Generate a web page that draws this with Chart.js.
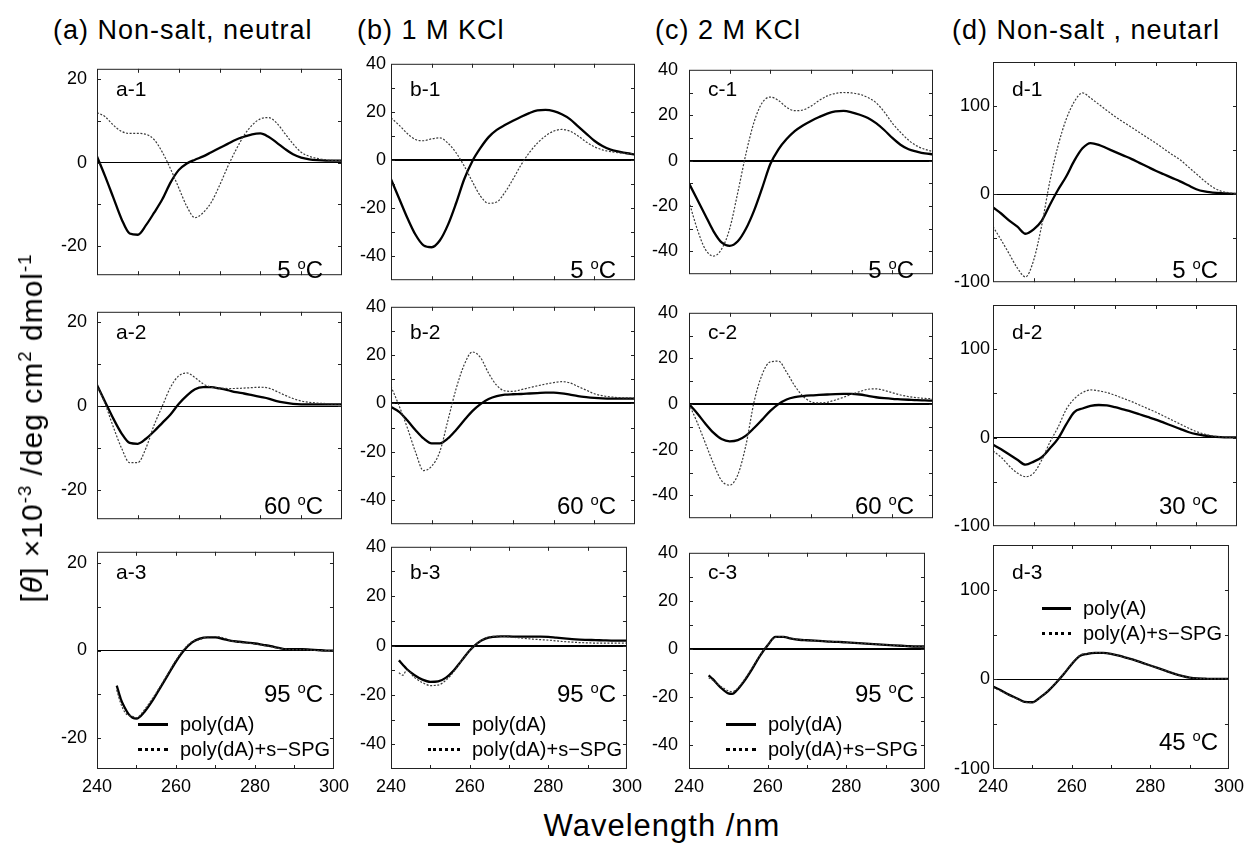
<!DOCTYPE html>
<html>
<head>
<meta charset="utf-8">
<script src="https://cdn.jsdelivr.net/npm/chart.js@4.4.0/dist/chart.umd.min.js"></script>
<style>
    body { margin: 0; background: #fff; width: 1254px; height: 843px; position: relative; overflow: hidden;
           font-family: 'Liberation Sans', Arial, Helvetica, sans-serif; color: #000; }
    .txt { position: absolute; white-space: nowrap; }
    .sup { font-size: 0.62em; position: relative; top: -0.6em; }
    .title { font-size: 27px; letter-spacing: 1px; line-height: 30px; }
    .tag { font-size: 21px; line-height: 21px; }
    .temp { font-size: 24px; line-height: 24px; text-align: right; }
    .leg { font-size: 20px; line-height: 22px; display: flex; align-items: center; }
    .leg .smp { display: inline-block; margin-right: 12px; }
</style>
</head>
<body>
<script>
// wavelength grid (nm)
const wl = [240,242,244,246,248,250,252,254,256,258,260,262,264,266,268,270,272,274,276,278,280,282,284,286,288,290,292,294,296,298,300];
const a3Wl = [245,246,247,248,249,250,252,254,256,258,260,262,264,266,268,270,272,274,276,278,280,282,284,286,288,290,292,294,296,298,300];
const b3Wl = [242,243,244,246,248,250,252,254,256,258,260,262,264,266,268,270,272,274,276,278,280,282,284,286,288,290,292,294,296,298,300];
const c3Wl = [245,246,248,250,251,252,254,256,258,260,262,264,266,268,270,272,274,276,278,280,282,284,286,288,290,292,294,296,298,300];

// tick values (labels shown on every other one)
const xTicks = [240,250,260,270,280,290,300];
const aTicks = [-20,-10,0,10,20];
const bcTicks = [-50,-40,-30,-20,-10,0,10,20,30,40];
const dTicks = [-100,-50,0,50,100,150];

// (a) non-salt, neutral - poly(dA) (solid) / poly(dA)+s-SPG (dotted)
const a1Solid  = [1.5,-3.3,-8.4,-13.5,-17,-17.3,-15,-12,-8.8,-4.8,-1.8,-0.2,0.7,1.5,2.5,3.5,4.5,5.5,6.2,6.8,7.0,6.2,4.8,3.3,2.0,1.2,0.8,0.6,0.5,0.5,0.5];
const a1Dotted = [12,11,9,7.5,7,7,6.8,5.5,2.5,-1.5,-6,-10.5,-13.2,-12,-9.5,-5.5,-1,3,6.5,9,10.5,10.8,9.5,7,4.5,2.5,1.5,1,0.7,0.5,0.5];
const a2Solid  = [5,1,-3,-6.5,-8.8,-9,-7.8,-6,-4,-2,0.5,2.5,4,4.5,4.5,4.2,3.8,3.3,3,2.6,2.2,1.8,1.2,0.8,0.5,0.4,0.4,0.4,0.4,0.4,0.4];
const a2Dotted = [5,0.5,-5,-10,-13.5,-13.5,-10,-4.5,0,4.5,7.2,7.9,6.8,5.3,4.5,4.3,4.2,4.2,4.3,4.4,4.5,4.3,3.5,2.6,1.8,1.2,0.9,0.7,0.6,0.5,0.5];
const a3Solid  = [-8,-11,-13,-14.5,-15.3,-15.5,-14,-11.5,-8.5,-5.5,-2.5,0,1.8,2.7,3,3,2.6,2.2,2,1.8,1.6,1.3,1,0.6,0.3,0.3,0.3,0.2,0.1,0,0];
const a3Dotted = [-9,-12,-14,-14.8,-15,-15.3,-13.5,-11,-8.2,-5.2,-2.2,0.3,2,2.5,3.1,3.2,2.9,2.2,1.9,1.7,1.5,1.2,0.9,0.5,0.3,0.2,0.2,0.1,0,0,0];

// (b) 1 M KCl
const b1Solid  = [-8,-16,-24,-31,-35.5,-36.3,-33.5,-27,-18,-8,-0.5,5,9.5,12.5,14.5,16.3,18,19.5,20.6,20.8,20.3,19,17,14,11,8,5.8,4.3,3.5,2.8,2.3];
const b1Dotted = [17.5,14.5,11,8.5,8,8.8,9.2,7,3,-2.5,-9,-15,-18,-17.5,-13.5,-8,-2,3,7,10,12,12.7,12,10,7.5,5.5,4.2,3.5,3,2.7,2.5];
const b2Solid  = [-1.5,-3.5,-7,-11,-14.5,-16.5,-16.5,-14.5,-11,-7,-3.2,-0.3,1.8,3,3.6,3.8,3.9,4.1,4.3,4.5,4.5,4.2,3.6,3,2.6,2.3,2.1,2,2,2,2];
const b2Dotted = [7,-1,-10,-20,-27.8,-26,-20,-7,6,16,21.3,19,12.5,7.5,5.2,5,5.7,6.5,7.3,8,8.6,9,8.5,7,5.5,4,3.2,2.7,2.4,2.3,2.2];
const b3Solid  = [-6,-7.8,-9.5,-12,-13.8,-14.7,-14.5,-13,-10,-6,-2,1,2.8,3.5,3.7,3.7,3.6,3.6,3.6,3.6,3.5,3.2,2.9,2.6,2.4,2.3,2.2,2.1,2,2,2];
const b3Dotted = [-11,-12,-10,-13,-15,-16.2,-16,-14,-10.5,-6,-2,1,3,3.7,3.8,3.5,3.2,2.9,2.6,2.4,2.2,1.9,1.6,1.4,1.2,1.1,1,1,1,1,1];

// (c) 2 M KCl
const c1Solid  = [-10,-17,-24,-31,-36,-37.5,-35.5,-30,-22,-12,-1.5,5,9.5,13,15.5,17.5,19.2,20.7,21.7,21.9,21.3,20.2,18.8,16.5,13.5,10,7,5,4,3.2,2.8];
const c1Dotted = [-18,-30,-39,-42,-39,-30,-14,3,17,25.5,28,26.5,23.5,22,22.3,24,26.5,28.5,29.6,30,29.8,29.2,27.8,25.5,21.5,16.5,12.5,9,6.5,5,4];
const c2Solid  = [0,-4,-8.5,-12.5,-15.3,-16.3,-15.8,-13.8,-10.5,-6.8,-3,0,2,3,3.5,3.8,4,4.2,4.4,4.5,4.5,4.2,3.6,3,2.6,2.3,2.1,1.9,1.7,1.6,1.5];
const c2Dotted = [0,-8,-17,-26,-33.5,-35.5,-31,-18,1,13,18.5,18.8,14,8,3.5,1,0.5,0.8,1.8,3,4.3,5.5,6.5,6.7,6,5,4,3.3,2.8,2.5,2.3];
const c3Solid  = [-11,-12.5,-16,-18.5,-18.7,-17.5,-13.5,-8.5,-3,1.5,5,5,4.3,3.8,3.6,3.4,3.2,3,2.9,2.7,2.5,2.3,2.1,1.9,1.7,1.5,1.3,1.1,1,1];
const c3Dotted = [-12,-13,-15.5,-17.5,-17.8,-17,-13,-8,-2.8,1.6,4.8,5.1,4.4,3.9,3.6,3.4,3.2,3.1,2.9,2.7,2.5,2.3,2.1,1.9,1.7,1.5,1.3,1.1,1,1];

// (d) non-salt, poly(A) (solid) / poly(A)+s-SPG (dotted)
const d1Solid  = [-15,-22,-30,-37,-45,-40,-30,-12,5,20,38,52,58,56,52,48,44,40,35.5,31,26.5,22.5,18.5,14.5,10,5.5,3,1.8,1,0.5,0.3];
const d1Dotted = [-37,-52,-68,-84,-94,-75,-35,15,55,85,105,115,109,102,95,88,82,76,70,64,58,51.5,45,39,31,23,15,8,3.5,1.5,0.5];
const d2Solid  = [-8,-13,-19,-25,-30.5,-27,-22,-12,-1,15,29,33,36,37,36.5,34.5,32,29.5,26.5,23.5,20.5,17,13.5,10,6.5,4,2.5,1.3,0.7,0.4,0.3];
const d2Dotted = [-15,-22,-32,-40,-44,-40,-25,-5,12,32,44,51,54,53,51,48,44.5,41,37,33,29,24.5,20,15.5,11,7,4,2,1,0.6,0.5];
const d3Solid  = [-8,-12,-17,-21,-25,-25.5,-20,-13,-4,6,17,26,28.5,29.5,29.5,28.5,26.5,24,21.5,18.5,15.5,12.5,9.5,6.5,4,2,1,0.7,0.5,0.5,0.5];
const d3Dotted = [-9,-13,-17.5,-21.5,-25.5,-26,-20.5,-12.5,-3.5,6.5,17.5,26.5,29,30,29.5,28.5,26.5,24,21.5,18.5,15.5,12.5,9.5,6.5,4,2,1,0.7,0.5,0.5,0.5];

const titles = { a: '(a) Non-salt, neutral', b: '(b) 1 M KCl', c: '(c) 2 M KCl', d: '(d) Non-salt , neutarl' };
const legendDA = ['poly(dA)', 'poly(dA)+s\u2212SPG'];
const legendA = ['poly(A)', 'poly(A)+s\u2212SPG'];

const panels = [
    { col: 'a', row: 1, x: wl, solid: a1Solid, dotted: a1Dotted, tag: 'a-1', temp: '5' },
    { col: 'a', row: 2, x: wl, solid: a2Solid, dotted: a2Dotted, tag: 'a-2', temp: '60' },
    { col: 'a', row: 3, x: a3Wl, solid: a3Solid, dotted: a3Dotted, tag: 'a-3', temp: '95', legend: legendDA },
    { col: 'b', row: 1, x: wl, solid: b1Solid, dotted: b1Dotted, tag: 'b-1', temp: '5' },
    { col: 'b', row: 2, x: wl, solid: b2Solid, dotted: b2Dotted, tag: 'b-2', temp: '60' },
    { col: 'b', row: 3, x: b3Wl, solid: b3Solid, dotted: b3Dotted, tag: 'b-3', temp: '95', legend: legendDA },
    { col: 'c', row: 1, x: wl, solid: c1Solid, dotted: c1Dotted, tag: 'c-1', temp: '5' },
    { col: 'c', row: 2, x: wl, solid: c2Solid, dotted: c2Dotted, tag: 'c-2', temp: '60' },
    { col: 'c', row: 3, x: c3Wl, solid: c3Solid, dotted: c3Dotted, tag: 'c-3', temp: '95', legend: legendDA },
    { col: 'd', row: 1, x: wl, solid: d1Solid, dotted: d1Dotted, tag: 'd-1', temp: '5' },
    { col: 'd', row: 2, x: wl, solid: d2Solid, dotted: d2Dotted, tag: 'd-2', temp: '30' },
    { col: 'd', row: 3, x: wl, solid: d3Solid, dotted: d3Dotted, tag: 'd-3', temp: '45', legend: legendA }
];

// layout (px) - plot box of each column / row
const COL = { a: [97, 245], b: [391, 244], c: [689, 244], d: [993, 244] };
const ROW = { 1: [62, 226], 2: [305, 227], 3: [545, 224] };
const YAX = {
    a: { min: -27, max: 22.5, ticks: aTicks, every: 20, gap: 10, zero: 1 },
    b: { min: -50, max: 40, ticks: bcTicks, every: 20, gap: 5, zero: 2 },
    c: { min: -50, max: 40, ticks: bcTicks, every: 20, gap: 11, zero: 2 },
    d: { min: -100, max: 150, ticks: dTicks, every: 100, gap: 3, zero: 1 }
};
const TITLE_X = { a: 53, b: 357, c: 655, d: 952 };
const LEG_X = { a: [41, 83], b: [37, 81], c: [37, 79], d: [49, 90] };

// box + inward tick marks
const framePlugin = {
    id: 'frame',
    afterDraw(chart) {
        const { ctx, chartArea: ca, scales } = chart;
        const xs = scales.x, ys = scales.y;
        ctx.save();
        ctx.strokeStyle = '#222';
        ctx.lineWidth = 1;
        ctx.strokeRect(ca.left + 0.5, ca.top + 0.5, ca.width - 1, ca.height - 1);
        ctx.beginPath();
        xs.ticks.forEach(t => {
            if (t.value <= xs.min || t.value >= xs.max) return;
            const px = Math.round(xs.getPixelForValue(t.value)) + 0.5;
            ctx.moveTo(px, ca.top); ctx.lineTo(px, ca.top + 4);
            ctx.moveTo(px, ca.bottom); ctx.lineTo(px, ca.bottom - 4);
        });
        ys.ticks.forEach(t => {
            if (t.value <= ys.min || t.value >= ys.max) return;
            const py = Math.round(ys.getPixelForValue(t.value)) + 0.5;
            ctx.moveTo(ca.left, py); ctx.lineTo(ca.left + 4, py);
            ctx.moveTo(ca.right, py); ctx.lineTo(ca.right - 4, py);
        });
        ctx.stroke();
        ctx.restore();
    }
};

function toXY(xs, ys) {
    return xs.map((x, i) => ({ x: x, y: ys[i] }));
}

function addText(cls, left, top, html, extra) {
    const el = document.createElement('div');
    el.className = 'txt ' + cls;
    el.style.left = left + 'px';
    el.style.top = top + 'px';
    if (extra) Object.assign(el.style, extra);
    el.innerHTML = html;
    document.body.appendChild(el);
    return el;
}

function makePanel(p) {
    const [left, w] = COL[p.col];
    const [top, h] = ROW[p.row];
    const ya = YAX[p.col];
    const padL = 70, padR = 14, padT = 14, padB = p.row === 3 ? 36 : 8;
    const tickFont = { size: 18, family: "'Liberation Sans', Arial, sans-serif" };

    const cv = document.createElement('canvas');
    cv.width = w + padL + padR;
    cv.height = h + padT + padB;
    cv.style.cssText = `position:absolute;left:${left - padL}px;top:${top - padT}px;width:${cv.width}px;height:${cv.height}px`;
    document.body.appendChild(cv);

    new Chart(cv, {
        type: 'line',
        data: {
            datasets: [{
                data: toXY(p.x, p.dotted),
                borderColor: '#3a3a3a',
                borderWidth: 1.2,
                borderDash: [2, 1.6],
                pointRadius: 0,
                cubicInterpolationMode: 'monotone'
            }, {
                data: toXY(p.x, p.solid),
                borderColor: '#000',
                borderWidth: 2.3,
                pointRadius: 0,
                cubicInterpolationMode: 'monotone'
            }]
        },
        options: {
            responsive: false,
            animation: false,
            layout: { autoPadding: false, padding: { left: 0, right: padR, top: padT, bottom: 0 } },
            plugins: { legend: { display: false }, tooltip: { enabled: false } },
            scales: {
                x: {
                    type: 'linear', min: 240, max: 300, bounds: 'data',
                    afterBuildTicks: s => { s.ticks = xTicks.map(v => ({ value: v })); },
                    afterFit: s => { s.height = padB; },
                    border: { display: false },
                    grid: { display: false, drawTicks: false },
                    ticks: {
                        autoSkip: false, maxRotation: 0, display: p.row === 3,
                        padding: 7, color: '#000', font: tickFont,
                        callback: v => (v % 20 === 0 ? v : '')
                    }
                },
                y: {
                    type: 'linear', min: ya.min, max: ya.max, bounds: 'data',
                    afterBuildTicks: s => { s.ticks = ya.ticks.map(v => ({ value: v })); },
                    afterFit: s => { s.width = padL; },
                    border: { display: false },
                    grid: {
                        drawTicks: false,
                        color: c => (c.tick && c.tick.value === 0 ? '#000' : 'rgba(0,0,0,0)'),
                        lineWidth: ya.zero
                    },
                    ticks: {
                        autoSkip: false, padding: ya.gap, color: '#000', font: tickFont,
                        callback: v => (v % ya.every === 0 ? v : '')
                    }
                }
            }
        },
        plugins: [framePlugin]
    });

    // panel tag and temperature
    addText('tag', left + 19, top + 16, p.tag);
    let base;
    if (p.row === 1) base = top + h - 10;
    else if (p.row === 2) base = top + h - 18;
    else base = p.col === 'd' ? top + h - 19 : top + h - 67;
    addText('temp', 0, base - 20, `${p.temp} <span class="sup">o</span>C`,
        { left: 'auto', right: (1254 - (left + w - 19)) + 'px' });

    if (p.legend) {
        const [sx, tx] = LEG_X[p.col];
        const y0 = p.col === 'd' ? 608 : 724;
        p.legend.forEach((txt, i) => {
            const style = i === 0 ? 'border-top:3px solid #000' : 'border-top:3px dotted #000';
            addText('leg', left + sx, y0 + i * 25 - 11,
                `<span class="smp" style="${style};width:${tx - sx - 12}px"></span>${txt}`);
        });
    }
}

panels.forEach(makePanel);

Object.keys(titles).forEach(k => addText('title', TITLE_X[k], 15, titles[k]));

// axis titles
addText('', 32, 428, '[<i>θ</i>] ×10<span class="sup">-3</span> /deg cm<span class="sup">2</span> dmol<span class="sup">-1</span>',
    { fontSize: '30px', letterSpacing: '1px', transform: 'translate(-50%, -50%) rotate(-90deg)' });
addText('', 662, 826, 'Wavelength /nm',
    { fontSize: '31px', letterSpacing: '1px', transform: 'translate(-50%, -50%)' });
</script>
</body>
</html>
